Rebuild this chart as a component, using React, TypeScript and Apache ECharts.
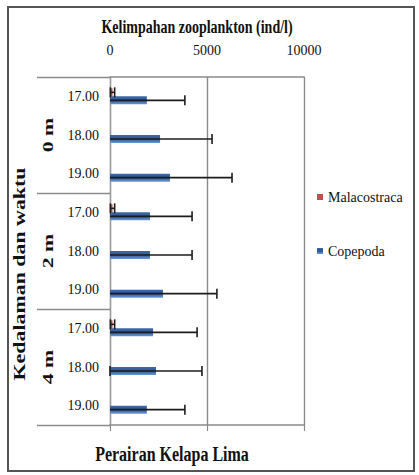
import React, { useEffect, useRef } from 'react';
import * as echarts from 'echarts';

// Depth groups and sampling times (rows run top to bottom)
const depths = ['0 m', '2 m', '4 m'];
const times = ['17.00', '18.00', '19.00'];
const categories = depths.flatMap((d) => times.map((t) => `${d}|${t}`));

// Abundance (ind/l) and standard deviations, one entry per row
const copepoda = [1900, 2580, 3090, 2060, 2060, 2730, 2220, 2370, 1900];
const copepodaSd = [1960, 2680, 3200, 2170, 2170, 2780, 2270, 2370, 1960];
const malacostraca = [130, 0, 0, 130, 0, 0, 130, 0, 0];
const malacostracaSd = [110, 0, 0, 110, 0, 0, 110, 0, 0];

// Value axis scale
const xMin = 0;
const xMax = 10000;
const xStep = 5000;

const SERIF = 'Liberation Serif, Times New Roman, serif';
const AXIS_GRAY = '#8a8a8a';
const BAR_W = 8;

function errorData(vals: number[], sds: number[]) {
  const out: number[][] = [];
  vals.forEach((v, i) => {
    if (sds[i] > 0) {
      const lo = v - sds[i];
      out.push([i, Math.max(0, lo), v + sds[i], lo >= 0 ? 1 : 0]);
    }
  });
  return out;
}

function errorRenderer(shift: number) {
  return (_params: any, api: any) => {
    const cat = api.value(0);
    const a = api.coord([api.value(1), cat]);
    const b = api.coord([api.value(2), cat]);
    const y = a[1] + shift;
    const cap = 5;
    const style = { stroke: '#1c1c1c', lineWidth: 1.6 };
    const children: any[] = [
      { type: 'line', shape: { x1: a[0], y1: y, x2: b[0], y2: y }, style },
      { type: 'line', shape: { x1: b[0], y1: y - cap, x2: b[0], y2: y + cap }, style },
    ];
    if (api.value(3)) {
      children.push({ type: 'line', shape: { x1: a[0], y1: y - cap, x2: a[0], y2: y + cap }, style });
    }
    return { type: 'group', children };
  };
}

function boldText(text: string, size: number) {
  return {
    text,
    fontFamily: SERIF,
    fontSize: size,
    fontWeight: 'bold',
    fill: '#111',
    textAlign: 'center',
    textVerticalAlign: 'middle',
    align: 'center',
    verticalAlign: 'middle',
  };
}

export default function App() {
  const ref = useRef<HTMLDivElement>(null);

  useEffect(() => {
    if (!ref.current) return;
    const chart = echarts.init(ref.current, undefined, { renderer: 'svg' });

    const option: any = {
      animation: false,
      backgroundColor: '#ffffff',
      textStyle: { fontFamily: SERIF },
      grid: { left: 110, right: 115, top: 77, bottom: 50, containLabel: false },
      legend: {
        orient: 'vertical',
        left: 317,
        top: 190,
        padding: 0,
        itemWidth: 6,
        itemHeight: 6,
        itemGap: 40,
        icon: 'rect',
        data: ['Malacostraca', 'Copepoda'],
        textStyle: { fontFamily: SERIF, fontSize: 14, color: '#111' },
      },
      xAxis: [
        {
          type: 'value',
          position: 'bottom',
          min: xMin,
          max: xMax,
          interval: xStep,
          axisLine: { show: true, lineStyle: { color: AXIS_GRAY, width: 1.6 } },
          axisTick: { show: true, length: 6, lineStyle: { color: AXIS_GRAY, width: 1.2 } },
          axisLabel: { show: false },
          splitLine: { show: true, lineStyle: { color: AXIS_GRAY, width: 1.4 } },
        },
        {
          type: 'value',
          position: 'top',
          min: xMin,
          max: xMax,
          interval: xStep,
          axisLine: { show: true, lineStyle: { color: AXIS_GRAY, width: 1.6 } },
          axisTick: { show: false },
          axisLabel: {
            show: true,
            margin: 20,
            fontFamily: SERIF,
            fontSize: 14,
            color: '#111',
            formatter: (v: number) => String(v),
          },
          splitLine: { show: false },
        },
      ],
      yAxis: [
        {
          type: 'category',
          position: 'left',
          inverse: true,
          data: categories,
          axisLine: { show: true, lineStyle: { color: '#9a9a9a', width: 1.2 } },
          axisTick: { show: false },
          axisLabel: {
            margin: 11,
            fontFamily: SERIF,
            fontSize: 14,
            color: '#111',
            formatter: (v: string) => v.split('|')[1],
          },
        },
        {
          type: 'category',
          position: 'left',
          inverse: true,
          data: depths,
          axisLine: { show: false },
          axisTick: { show: true, length: 73, lineStyle: { color: AXIS_GRAY, width: 1.4 } },
          axisLabel: { show: false },
        },
      ],
      series: [
        {
          name: 'Malacostraca',
          type: 'bar',
          xAxisIndex: 0,
          yAxisIndex: 0,
          data: malacostraca,
          barWidth: BAR_W,
          barGap: '0%',
          itemStyle: { color: '#c0504d' },
        },
        {
          name: 'Copepoda',
          type: 'bar',
          xAxisIndex: 0,
          yAxisIndex: 0,
          data: copepoda,
          barWidth: BAR_W,
          barGap: '0%',
          itemStyle: {
            color: new echarts.graphic.LinearGradient(0, 0, 0, 1, [
              { offset: 0, color: '#3a69aa' },
              { offset: 0.5, color: '#2d5793' },
              { offset: 1, color: '#6b98d4' },
            ]),
          },
        },
        {
          name: 'Malacostraca SD',
          type: 'custom',
          xAxisIndex: 0,
          yAxisIndex: 0,
          z: 5,
          encode: { x: [1, 2], y: 0 },
          data: errorData(malacostraca, malacostracaSd),
          renderItem: errorRenderer(-BAR_W / 2),
        },
        {
          name: 'Copepoda SD',
          type: 'custom',
          xAxisIndex: 0,
          yAxisIndex: 0,
          z: 5,
          encode: { x: [1, 2], y: 0 },
          data: errorData(copepoda, copepodaSd),
          renderItem: errorRenderer(BAR_W / 2),
        },
      ],
      graphic: [
        {
          id: 'frame',
          type: 'rect',
          shape: { x: 8, y: 7, width: 406, height: 464 },
          style: { fill: 'none', stroke: '#555', lineWidth: 2 },
          silent: true,
        },
        {
          id: 'xTitle',
          type: 'text',
          x: 197,
          y: 27,
          scaleY: 1.3,
          style: boldText('Kelimpahan zooplankton (ind/l)', 14),
        },
        {
          id: 'siteTitle',
          type: 'text',
          x: 172,
          y: 454,
          scaleY: 1.35,
          style: boldText('Perairan Kelapa Lima', 16),
        },
        {
          id: 'yTitle',
          type: 'text',
          x: 20,
          y: 274,
          rotation: Math.PI / 2,
          scaleX: 1.37,
          style: boldText('Kedalaman dan waktu', 16),
        },
      ],
    };

    chart.setOption(option);

    // Depth labels, centred on each group band of the depth axis
    const depthLabels = depths.map((d, i) => {
      const y = chart.convertToPixel({ yAxisIndex: 1 } as any, d) as unknown as number;
      return {
        id: `depth${i}`,
        type: 'text',
        x: 48,
        y,
        rotation: Math.PI / 2,
        scaleX: 1.45,
        style: boldText(d, 15),
      };
    });
    chart.setOption({ graphic: depthLabels });

    return () => chart.dispose();
  }, []);

  return (
    <div
      ref={ref}
      style={{ position: 'absolute', left: 0, top: 0, width: 419, height: 475, background: '#fff' }}
    />
  );
}
